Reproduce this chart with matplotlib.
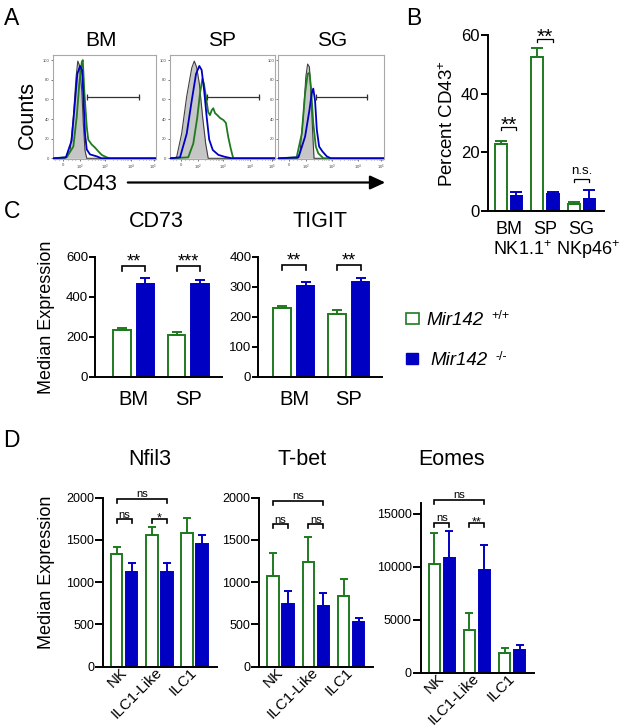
import numpy as np
import matplotlib
matplotlib.use("Agg")
import matplotlib.pyplot as plt
from matplotlib.patches import Rectangle, FancyArrowPatch

plt.rcParams['font.family'] = ['Liberation Sans', 'DejaVu Sans']
plt.rcParams['mathtext.fontset'] = 'custom'
plt.rcParams['mathtext.rm'] = 'Liberation Sans'
plt.rcParams['mathtext.it'] = 'Liberation Sans:italic'
plt.rcParams['mathtext.bf'] = 'Liberation Sans:bold'

# ---------------------------------------------------------------- data
# Panel A: CD43 flow histograms (x: display channel on biexponential axis, y: % of max)
hist_tissues = ['BM', 'SP', 'SG']
hist_tick_pos = [1.37, 2.04, 3.06, 4.10, 5.0]
hist_tick_labels = ['0', '$10^2$', '$10^3$', '$10^4$', '$10^5$']
hist_yticks = [0, 20, 40, 60, 80, 100]

bm_iso_x = [0.95, 1.43, 1.64, 1.77, 1.88, 1.95, 2.01, 2.11, 2.17, 2.24, 2.31, 5.1]
bm_iso_y = [0, 0, 8, 42, 83, 99, 95, 69, 36, 8, 0, 0]
bm_wt_x = [0.95, 1.50, 1.77, 1.905, 2.01, 2.11, 2.15, 2.21, 2.31, 2.37, 2.51, 2.64, 2.78, 2.91, 3.11, 3.25, 5.1]
bm_wt_y = [0, 1, 12, 42, 76, 98, 100, 69, 32, 19, 14, 11, 7, 3.5, 1, 0, 0]
bm_ko_x = [0.95, 1.47, 1.70, 1.84, 1.93, 2.04, 2.12, 2.17, 2.24, 2.31, 2.44, 2.71, 2.91, 5.1]
bm_ko_y = [0, 1, 18, 59, 86, 94, 90, 66, 25, 9, 4, 2, 0, 0]

sp_iso_x = [0.95, 1.21, 1.41, 1.61, 1.81, 1.91, 2.0, 2.11, 2.24, 2.36, 2.46, 5.1]
sp_iso_y = [0, 1, 25, 63, 92, 99, 93, 76, 42, 15, 0, 0]
sp_wt_x = [0.95, 1.67, 1.87, 2.03, 2.135, 2.23, 2.29, 2.37, 2.46, 2.53, 2.60, 2.66, 2.73,
           2.82, 2.93, 3.06, 3.16, 3.25, 3.35, 3.45, 5.1]
sp_wt_y = [0, 1, 15, 42, 66, 81, 76, 63, 47, 44, 49, 51, 46, 44, 41, 39, 36, 22, 10, 0, 0]
sp_ko_x = [0.95, 1.345, 1.61, 1.81, 1.98, 2.11, 2.20, 2.30, 2.40, 2.50, 2.64, 2.86, 3.12, 3.39, 5.1]
sp_ko_y = [0, 1, 25, 59, 86, 94, 90, 69, 42, 19, 8.5, 3.5, 1.5, 0, 0]

sg_iso_x = [0.95, 1.72, 1.81, 1.94, 2.04, 2.11, 2.18, 2.24, 2.31, 2.36, 5.1]
sg_iso_y = [0, 0, 6, 42, 83, 96, 93, 66, 25, 0, 0]
sg_wt_x = [0.95, 1.68, 1.88, 2.01, 2.11, 2.18, 2.24, 2.33, 2.43, 2.53, 2.73, 5.1]
sg_wt_y = [0, 1, 25, 66, 86, 87, 73, 36, 12, 5, 0, 0]
sg_ko_x = [0.95, 1.75, 2.01, 2.18, 2.27, 2.33, 2.40, 2.47, 2.56, 2.69, 2.86, 3.02, 5.1]
sg_ko_y = [0, 1, 22, 49, 66, 71, 59, 29, 12, 7, 2, 0, 0]

gate_start = [2.31, 2.40, 2.44]
gate_end = [4.42, 4.47, 4.45]
gate_level = 62

# Panel B: percent CD43+
pct_groups = ['BM', 'SP', 'SG']
pct_wt = [22.7, 52.4, 2.4]
pct_wt_err = [1.2, 3.1, 0.8]
pct_ko = [5.2, 5.7, 4.0]
pct_ko_err = [1.2, 0.8, 3.2]
pct_sig = ['**', '**', 'n.s.']
pct_sig_y = [28.5, 58.5, 10.9]

# Panel C
c_groups = ['BM', 'SP']
cd73_wt = [233, 208]
cd73_wt_err = [9, 17]
cd73_ko = [463, 463]
cd73_ko_err = [32, 20]
cd73_sig = ['**', '***']
cd73_sig_y = 553
tigit_wt = [230, 208]
tigit_wt_err = [7, 14]
tigit_ko = [302, 315]
tigit_ko_err = [15, 15]
tigit_sig = ['**', '**']
tigit_sig_y = 372

# Panel D
d_groups = ['NK', 'ILC1-Like', 'ILC1']
nfil3_wt = [1330, 1558, 1578]
nfil3_wt_err = [83, 99, 178]
nfil3_ko = [1124, 1124, 1452]
nfil3_ko_err = [99, 107, 106]
nfil3_sig = ['ns', '*']
nfil3_sig_y = 1744
nfil3_outer_y = 1985

tbet_wt = [1073, 1235, 837]
tbet_wt_err = [269, 303, 201]
tbet_ko = [738, 718, 525]
tbet_ko_err = [158, 158, 48]
tbet_sig = ['ns', 'ns']
tbet_sig_y = 1685
tbet_outer_y = 1961

eomes_wt = [10274, 4036, 1834]
eomes_wt_err = [2902, 1578, 472]
eomes_ko = [10870, 9707, 2146]
eomes_ko_err = [2552, 2363, 472]
eomes_sig = ['ns', '**']
eomes_sig_y = 14178
eomes_outer_y = 16323

# ---------------------------------------------------------------- style / layout
W, H = 625, 728
GREEN = '#1f7a1f'
BLUE = '#0000c2'
BW = 0.32
OFF = 0.214

fig = plt.figure(figsize=(W / 100, H / 100), dpi=100)


def box(l, t, r, b):
    return [l / W, 1 - b / H, (r - l) / W, (b - t) / H]


def fx(x):
    return x / W


def fy(y):
    return 1 - y / H


def dy_px(ax, px):
    bb = ax.get_position()
    y0, y1 = ax.get_ylim()
    return px * (y1 - y0) / (bb.height * H)


def sig(ax, x0, x1, y, label, drop_px, fs, center_px, lw=1.1):
    d = dy_px(ax, drop_px)
    ax.plot([x0, x0, x1, x1], [y - d, y, y, y - d], color='k', lw=lw,
            clip_on=False, solid_joinstyle='miter')
    ratio = 0.575 if '*' in label else 0.26
    base = center_px - ratio * fs * 100 / 72
    ax.annotate(label, xy=((x0 + x1) / 2, y), xytext=(0, base),
                textcoords='offset pixels', ha='center', va='baseline',
                fontsize=fs, annotation_clip=False)


def style_bar_axes(ax, tick_len, tick_fs):
    for s in ['top', 'right']:
        ax.spines[s].set_visible(False)
    for s in ['left', 'bottom']:
        ax.spines[s].set_linewidth(1.4)
    ax.tick_params(axis='y', length=tick_len, width=1.4, labelsize=tick_fs, pad=1)
    ax.tick_params(axis='x', length=0)


def draw_bars(ax, wt, wt_err, ko, ko_err, cap):
    x = np.arange(len(wt))
    z = np.zeros(len(wt))
    ax.bar(x - OFF, wt, BW, facecolor='white', edgecolor=GREEN, linewidth=1.4, zorder=2)
    ax.bar(x + OFF, ko, BW, facecolor=BLUE, edgecolor=BLUE, linewidth=1.4, zorder=2)
    ax.errorbar(x - OFF, wt, yerr=[z, wt_err], fmt='none', ecolor=GREEN,
                elinewidth=1.4, capsize=cap, capthick=1.4, zorder=3)
    ax.errorbar(x + OFF, ko, yerr=[z, ko_err], fmt='none', ecolor=BLUE,
                elinewidth=1.4, capsize=cap, capthick=1.4, zorder=3)
    return x


# ---------------------------------------------------------------- Panel A
hist_curves = [
    (bm_iso_x, bm_iso_y, bm_wt_x, bm_wt_y, bm_ko_x, bm_ko_y),
    (sp_iso_x, sp_iso_y, sp_wt_x, sp_wt_y, sp_ko_x, sp_ko_y),
    (sg_iso_x, sg_iso_y, sg_wt_x, sg_wt_y, sg_ko_x, sg_ko_y),
]
a_boxes = [(53, 54.7, 156, 159.3), (170, 54.7, 275, 159.3), (278, 54.7, 384, 159.3)]
a_title_x = [100.8, 221.7, 332.5]
minor_pos = [p + np.log10(k) * 1.02 for p in hist_tick_pos[1:4] for k in range(2, 10)]
minor_pos = [m for m in minor_pos if m < 5.1] + [1.55, 1.7, 1.85, 1.2, 1.05]
for i, ax_box in enumerate(a_boxes):
    ax = fig.add_axes(box(*ax_box))
    ix, iy, wx, wy, kx, ky = hist_curves[i]
    ax.fill_between(ix, iy, 0, color='#c6c6c6', lw=0, zorder=1)
    ax.plot(ix, iy, color='#404040', lw=0.8, zorder=2)
    ax.plot(wx, wy, color=GREEN, lw=1.3, zorder=3)
    ax.plot(kx, ky, color=BLUE, lw=1.3, zorder=4)
    ax.plot([gate_start[i], gate_end[i]], [gate_level, gate_level], color='#303030',
            lw=0.9, marker='|', ms=4, mew=0.9, zorder=5)
    ax.set_xlim(0.95, 5.1)
    ax.set_ylim(-1, 105.5)
    ax.set_xticks(hist_tick_pos)
    ax.set_xticklabels(hist_tick_labels)
    ax.set_xticks(minor_pos, minor=True)
    ax.set_yticks(hist_yticks)
    ax.tick_params(labelsize=3, length=1.6, width=0.5, pad=1, colors='#444444')
    ax.tick_params(which='minor', length=1.0, width=0.4, colors='#444444')
    for s in ax.spines.values():
        s.set_color('#a8a8a8')
        s.set_linewidth(0.8)
    fig.text(fx(a_title_x[i]), fy(45.7), hist_tissues[i], ha='center', va='baseline', fontsize=15)

fig.text(fx(27), fy(115), 'Counts', rotation=90, ha='center', va='center', fontsize=15.5)
fig.text(fx(63), fy(190), 'CD43', ha='left', va='baseline', fontsize=15.5)
fig.add_artist(FancyArrowPatch((fx(125), fy(182.5)), (fx(388), fy(182.5)),
                               transform=fig.transFigure,
                               arrowstyle='-|>,head_length=0.65,head_width=0.3',
                               mutation_scale=14, lw=1.6, color='k'))

# ---------------------------------------------------------------- Panel B
axB = fig.add_axes(box(487.7, 35, 604.3, 211))
xb = draw_bars(axB, pct_wt, pct_wt_err, pct_ko, pct_ko_err, 4)
axB.set_xlim(-0.57, 2.62)
axB.set_ylim(0, 60)
axB.set_yticks([0, 20, 40, 60])
style_bar_axes(axB, 5, 12)
axB.set_xticks(xb)
axB.set_xticklabels(pct_groups, fontsize=13)
axB.tick_params(axis='x', pad=7)
axB.set_ylabel('Percent CD43$^{+}$', fontsize=13.5, labelpad=3)
for i in range(3):
    lab = pct_sig[i]
    sig(axB, i - OFF, i + OFF, pct_sig_y[i], lab, 3, 15 if '*' in lab else 9.5,
        9 if '*' in lab else 8.3, lw=0.9)
fig.text(fx(493.3), fy(255), 'NK1.1$^{+}$ NKp46$^{+}$', ha='left', va='baseline', fontsize=13)

# ---------------------------------------------------------------- Panel C
c_specs = [
    ((95, 256.7, 221.7, 376.7), cd73_wt, cd73_wt_err, cd73_ko, cd73_ko_err, 600,
     [0, 200, 400, 600], (-0.71, 1.61), cd73_sig, cd73_sig_y, 'CD73', 156.7),
    ((258.3, 256.7, 381.7, 376.7), tigit_wt, tigit_wt_err, tigit_ko, tigit_ko_err, 400,
     [0, 100, 200, 300, 400], (-0.65, 1.6), tigit_sig, tigit_sig_y, 'TIGIT', 320),
]
for j, (bx, wt, we, ko, ke, ymax, yt, xl, sg, sgy, title, tx) in enumerate(c_specs):
    ax = fig.add_axes(box(*bx))
    xc = draw_bars(ax, wt, we, ko, ke, 3.6)
    ax.set_xlim(*xl)
    ax.set_ylim(0, ymax)
    ax.set_yticks(yt)
    style_bar_axes(ax, 4, 9.5)
    ax.set_xticks(xc)
    ax.set_xticklabels(c_groups, fontsize=14.5)
    ax.tick_params(axis='x', pad=9.5)
    for i in range(2):
        sig(ax, i - OFF, i + OFF, sgy, sg[i], 5, 13, 10, lw=1.2)
    fig.text(fx(tx), fy(227), title, ha='center', va='baseline', fontsize=15.5)
fig.text(fx(46.7), fy(317), 'Median Expression', rotation=90, ha='center', va='center', fontsize=13)

# legend
fig.add_artist(Rectangle((fx(406), fy(324)), (418.7 - 406) / W, (324 - 313.3) / H,
                         transform=fig.transFigure, facecolor='white', edgecolor=GREEN, lw=1.2))
fig.add_artist(Rectangle((fx(406), fy(364)), (418 - 406) / W, (364 - 352.7) / H,
                         transform=fig.transFigure, facecolor=BLUE, edgecolor=BLUE, lw=1.0))
fig.text(fx(426.7), fy(325), 'Mir142', style='italic', ha='left', va='baseline', fontsize=13.5)
fig.text(fx(491.7), fy(319), '+/+', ha='left', va='baseline', fontsize=9)
fig.text(fx(430), fy(365), 'Mir142', style='italic', ha='left', va='baseline', fontsize=13.5)
fig.text(fx(495), fy(360), '-/-', ha='left', va='baseline', fontsize=9)

# ---------------------------------------------------------------- Panel D
d_specs = [
    ((103.3, 497.7, 216.7, 666.7), nfil3_wt, nfil3_wt_err, nfil3_ko, nfil3_ko_err, 2000,
     [0, 500, 1000, 1500, 2000], nfil3_sig, nfil3_sig_y, nfil3_outer_y, 'Nfil3', 150),
    ((259.3, 497.7, 373.3, 666.7), tbet_wt, tbet_wt_err, tbet_ko, tbet_ko_err, 2000,
     [0, 500, 1000, 1500, 2000], tbet_sig, tbet_sig_y, tbet_outer_y, 'T-bet', 301.7),
    ((420.7, 503.3, 534.3, 672.7), eomes_wt, eomes_wt_err, eomes_ko, eomes_ko_err, 16000,
     [0, 5000, 10000, 15000], eomes_sig, eomes_sig_y, eomes_outer_y, 'Eomes', 451.5),
]
for j, (bx, wt, we, ko, ke, ymax, yt, sg, sgy, outy, title, tx) in enumerate(d_specs):
    ax = fig.add_axes(box(*bx))
    xd = draw_bars(ax, wt, we, ko, ke, 3)
    ax.set_xlim(-0.6, 2.63)
    ax.set_ylim(0, ymax)
    ax.set_yticks(yt)
    style_bar_axes(ax, 5.5, 9)
    ax.set_xticks(xd)
    ax.set_xticklabels(d_groups, fontsize=11, rotation=45, ha='right', va='center',
                       rotation_mode='anchor')
    ax.tick_params(axis='x', pad=2.5)
    for i in range(2):
        sig(ax, i - OFF, i + OFF, sgy, sg[i], 4, 8 if sg[i] == 'ns' else 9, 4.7, lw=1.2)
    sig(ax, 0 - OFF, 1 + OFF, outy, 'ns', 4, 8, 4.7, lw=1.2)
    fig.text(fx(tx), fy(465), title, ha='center', va='baseline', fontsize=15.5)
fig.text(fx(46.7), fy(572), 'Median Expression', rotation=90, ha='center', va='center', fontsize=13)

# ---------------------------------------------------------------- panel letters
for lab, x, y in [('A', 3.5, 25), ('B', 406, 25), ('C', 3.5, 218), ('D', 3.5, 447)]:
    fig.text(fx(x), fy(y), lab, ha='left', va='baseline', fontsize=16.5)

fig.savefig('out.png', dpi=100)
